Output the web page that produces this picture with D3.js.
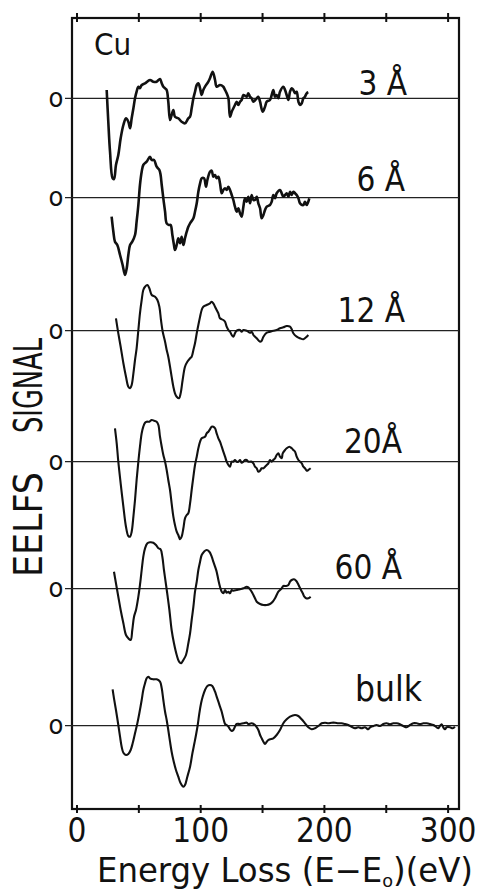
<!DOCTYPE html>
<html>
<head>
<meta charset="utf-8">
<script src="https://cdn.jsdelivr.net/npm/d3@7"></script>
<style>
  body { margin: 0; background: #fff; }
  svg { display: block; }
  text { font-family: "DejaVu Sans Condensed", "DejaVu Sans", sans-serif; font-weight: 300; fill: #111; }
</style>
</head>
<body>
<script>

// data: energy loss (eV) and EELFS signal (arb. units) for each film thickness

const energy3 = [24.4,25.7,27.1,29.2,30.3,31.9,33.8,35.7,37.9,40.0,41.9,43.3,44.6,46.0,47.3,48.6,50.0,51.3,52.7,55.4,59.4,62.1,64.8,67.5,68.9,70.2,71.6,72.9,74.2,75.6,76.9,78.3,79.6,82.3,85.0,87.7,90.4,91.8,93.1,94.5,95.8,97.2,98.5,99.9,101.2,102.5,103.9,106.6,107.9,110.1,112.0,113.3,116.0,118.7,120.1,121.4,122.8,124.1,125.5,126.8,128.1,129.5,130.8,132.2,133.5,134.9,137.6,138.9,140.3,141.6,143.0,145.7,147.0,148.4,150.5,152.4,153.8,156.4,157.8,159.1,160.5,161.8,163.2,164.5,167.2,168.6,169.9,171.3,172.6,174.0,175.3,176.7,178.0,179.4,180.7,182.1,183.4,184.7,186.1,187.4];
const signal3 = [8.3,-23.4,-53.4,-80.0,-80.7,-66.7,-56.7,-40.0,-26.7,-20.0,-23.4,-30.0,-20.0,-10.0,0,6.6,11.6,10.0,13.3,15.0,18.3,16.6,16.6,19.3,15.0,11.6,10.0,8.3,-3.4,-21.7,-16.7,-11.7,-18.4,-20.0,-23.4,-25.0,-20.0,-18.4,-10.0,0,6.6,13.3,15.0,10.0,3.3,8.3,11.6,16.6,20.0,26.6,18.3,11.6,13.3,11.6,8.3,5.0,0,-18.4,-13.4,-10.0,-6.7,-3.4,-6.7,-3.4,-1.7,3.3,1.6,5.0,1.6,0,-3.4,0,1.6,-3.4,-13.4,-8.4,-3.4,-1.7,3.3,8.3,1.6,3.3,0,6.6,11.6,8.3,3.3,-1.7,6.6,10.0,8.3,5.0,6.6,-3.4,-6.7,-5.0,0,1.6,5.0,6.0];

const energy6 = [28.4,29.8,31.1,33.0,35.2,37.3,39.2,40.6,41.9,43.3,45.1,47.3,48.6,50.0,51.3,52.7,54.0,56.7,59.4,60.8,62.7,64.8,67.0,68.0,68.9,70.2,71.6,72.9,74.8,76.1,77.5,78.8,79.6,81.0,82.3,83.7,85.0,86.4,87.7,89.1,90.4,91.8,94.5,95.8,97.2,98.5,99.9,101.2,103.1,104.7,105.8,107.9,109.3,110.6,112.0,113.3,114.7,116.0,117.4,118.7,120.1,121.4,122.8,124.1,125.5,126.8,128.1,129.5,130.8,132.2,133.5,134.9,136.2,137.6,138.9,140.3,141.6,143.0,144.3,145.7,147.0,148.4,149.7,151.1,152.4,153.8,156.4,157.8,159.1,160.5,161.8,164.5,165.9,167.2,168.6,169.9,171.3,172.6,174.0,175.3,176.7,178.0,179.4,180.7,183.4,184.7,186.1,188.2];
const signal6 = [-19.0,-34.0,-44.0,-47.3,-57.3,-67.3,-77.3,-70.6,-57.3,-47.3,-44.0,-37.3,-24.0,-7.3,12.7,26.0,32.7,36.0,41.0,37.7,37.7,31.0,27.7,22.7,12.7,-0.6,-14.0,-25.6,-27.3,-27.3,-37.3,-47.3,-52.3,-47.3,-40.6,-45.6,-39.0,-47.3,-40.6,-34.0,-29.0,-25.6,-20.6,-14.0,-5.6,6.0,14.4,19.4,19.4,11.0,17.7,26.0,27.0,21.0,22.7,19.4,21.0,14.4,4.4,7.7,9.4,7.7,11.0,7.7,2.7,-2.3,-9.0,-14.0,-10.6,-15.6,-19.0,-9.0,-0.6,-4.0,1.0,-5.6,2.7,-2.3,-2.3,1.0,-5.6,-10.6,-20.6,-17.3,-12.3,-9.0,-7.3,-4.0,2.7,-0.6,4.4,7.7,4.4,1.0,2.7,4.4,1.0,6.0,2.7,6.0,4.4,2.7,-0.6,-5.6,-7.3,-4.0,-7.3,-0.6];

const energy12 = [31.9,33.8,35.7,37.9,40.0,41.9,43.3,44.6,46.0,47.3,48.6,50.0,51.3,52.7,54.0,55.4,57.3,58.9,60.8,63.5,65.4,67.0,68.3,69.7,71.6,72.9,74.2,75.6,76.9,78.3,79.6,81.0,82.9,84.2,85.8,87.7,89.6,91.8,93.1,94.5,95.8,97.2,98.5,99.9,101.2,102.5,105.2,107.9,109.3,110.6,112.0,113.3,114.7,116.0,118.7,120.1,121.4,122.8,124.1,125.5,126.8,128.1,129.5,132.2,133.5,134.9,137.6,140.3,141.6,143.0,144.3,145.7,148.4,149.7,151.1,153.8,156.4,159.1,161.8,164.5,167.2,169.9,172.6,174.0,175.3,178.0,180.7,183.4,186.1,187.4];
const signal12 = [12.4,-2.6,-16.0,-32.6,-46.0,-56.0,-57.6,-54.3,-42.6,-29.3,-17.6,0.7,17.4,30.7,40.7,44.0,45.7,42.4,35.7,34.0,30.7,24.0,10.7,-1.0,-11.0,-19.3,-26.0,-36.0,-46.0,-56.0,-62.6,-66.0,-67.6,-62.6,-49.3,-36.0,-31.0,-27.6,-26.0,-19.3,-12.6,-2.6,5.7,14.0,20.7,24.0,25.7,27.4,29.0,27.4,24.0,20.7,17.4,12.4,10.7,9.0,4.0,0.7,-1.0,-4.3,-6.0,-2.6,0,0.7,-1.0,0.7,0,-2.0,-1.0,-4.3,-6.0,-7.6,-11.0,-10.0,-6.0,-2.0,-1.0,0,0.7,2.4,3.4,4.7,4.0,1.4,-2.6,-6.0,-7.6,-8.6,-6.0,-4.3];

const energy20 = [31.1,32.5,33.8,35.7,37.9,40.0,41.9,43.3,44.6,46.0,47.3,48.6,50.0,51.3,52.7,54.0,55.4,56.7,58.9,60.8,62.7,64.8,66.2,67.5,68.9,70.2,71.6,72.9,74.2,75.6,76.9,78.3,79.6,81.0,82.3,83.7,85.0,86.4,87.7,89.1,90.4,91.8,93.1,94.5,95.8,97.2,98.5,99.9,101.2,103.9,105.2,106.6,107.9,109.3,110.6,112.0,113.3,114.7,116.0,117.4,118.7,120.1,121.4,122.8,124.1,125.5,126.8,128.1,129.5,130.8,132.2,133.5,134.9,136.2,137.6,138.9,140.3,141.6,143.0,144.3,145.7,147.0,148.4,149.7,151.1,152.4,153.8,155.1,156.4,157.8,159.1,160.5,161.8,163.2,164.5,165.9,166.7,168.6,169.9,172.1,174.0,175.3,176.7,178.0,179.4,180.7,182.1,183.4,184.7,186.1,187.4,189.3];
const signal20 = [33.4,18.4,0,-21.6,-45.0,-65.0,-74.3,-75.0,-70.0,-55.0,-38.3,-18.3,0,15.0,28.4,35.0,39.0,40.0,40.0,41.7,41.0,40.0,36.7,25.0,15.0,6.7,0,-8.3,-18.3,-28.3,-41.6,-55.0,-63.3,-70.0,-73.3,-77.6,-75.0,-66.6,-56.6,-53.3,-51.6,-41.6,-28.3,-15.0,-3.3,5.0,13.4,20.0,23.4,25.0,28.4,30.0,32.4,35.0,35.0,33.4,28.4,23.4,20.0,15.0,10.0,5.0,0,-3.3,-5.0,0,0,1.7,0,0,1.7,-1.0,0,1.7,1.7,0,0,0,-1.6,-5.0,-6.6,-10.0,-9.0,-6.6,-6.6,-5.0,-3.3,-1.6,1.7,0,1.7,3.4,6.7,8.4,5.0,3.4,8.4,11.7,13.4,15.0,13.4,11.7,10.0,5.0,1.7,0,-1.6,-5.0,-6.6,-9.0,-8.3,-6.6];

const energy60 = [30.3,31.9,33.8,35.7,37.9,40.0,41.9,43.8,45.1,46.5,48.1,50.0,51.3,52.7,54.0,55.4,57.3,59.4,62.1,64.3,66.2,68.0,69.4,70.7,72.4,73.7,75.1,76.9,78.8,81.0,82.9,84.5,86.4,88.5,90.4,91.8,93.1,94.5,95.8,97.2,98.5,99.9,101.2,103.1,105.2,107.4,109.3,110.6,112.0,113.3,114.7,116.0,117.4,118.7,120.1,121.4,122.8,124.1,125.5,126.8,129.5,132.2,134.9,137.6,138.9,140.3,141.6,143.0,144.3,145.7,148.4,151.1,153.8,156.4,158.6,160.5,161.8,163.2,164.5,165.9,167.2,169.4,171.3,172.6,174.0,175.8,177.5,178.8,180.2,181.5,182.9,184.2,185.6,187.4,189.3];
const signal60 = [17.0,5.4,-8.0,-21.3,-34.6,-46.3,-49.6,-51.3,-41.3,-28.0,-21.3,-8.0,3.7,18.7,32.0,40.4,45.4,46.4,46.0,43.7,40.4,39.4,32.0,18.7,3.7,-8.0,-21.3,-41.3,-54.6,-66.3,-73.0,-74.6,-71.3,-66.3,-54.6,-44.6,-31.3,-18.0,-3.0,7.0,18.7,27.0,33.7,37.0,38.7,37.0,32.0,27.0,22.0,17.0,8.7,2.0,-3.0,-4.6,-1.3,-4.0,-3.0,-4.6,-1.3,-2.0,-1.3,-0.6,0.4,2.0,1.4,-0.6,-3.0,-6.3,-9.6,-13.0,-15.3,-16.3,-16.3,-15.3,-13.0,-9.6,-6.3,-3.0,-1.3,0.4,2.7,2.7,3.7,7.0,8.7,9.4,8.0,5.4,2.0,-1.3,-4.6,-8.0,-9.6,-9.6,-8.0];

const energyBulk = [29.2,30.3,31.9,33.8,35.2,36.5,37.9,40.0,41.9,43.8,45.4,47.3,49.2,50.8,52.7,54.0,55.4,56.7,58.1,59.4,62.1,64.8,67.5,68.9,70.2,71.6,72.9,74.2,75.6,76.9,78.3,80.4,82.3,84.2,86.4,87.7,89.6,91.8,93.7,95.3,96.6,98.0,99.3,100.7,102.0,103.9,105.8,107.9,109.8,112.0,113.3,114.7,116.0,117.4,118.7,120.1,121.4,122.8,124.1,125.5,126.8,128.1,129.5,132.2,134.9,137.6,138.9,141.6,144.3,145.7,147.0,148.4,149.7,151.1,152.4,153.8,155.1,156.4,159.1,161.8,164.5,167.2,169.9,172.6,176.6,179.3,182.0,184.7,187.4,190.1,192.8,195.5,198.2,200.9,203.6,206.3,209.0,211.6,214.3,217.0,219.7,222.4,225.1,227.8,230.5,233.2,235.9,237.3,240.0,242.6,245.3,248.0,250.7,253.4,256.1,258.8,261.5,264.2,266.9,269.6,272.3,275.0,277.7,280.4,283.1,285.8,288.5,291.2,292.5,293.8,295.2,296.5,297.9,299.2,301.9,304.1,305.9];
const signalBulk = [36.4,27.4,15.7,0.7,-11.0,-21.0,-27.0,-29.3,-28.3,-24.3,-17.6,-7.6,2.4,12.4,25.7,35.7,42.4,47.4,49.0,47.4,46.4,46.4,44.0,37.4,25.7,14.0,5.7,-4.3,-16.0,-26.0,-34.3,-44.3,-51.0,-57.6,-61.0,-59.3,-51.0,-41.0,-27.6,-17.6,-9.3,0.7,12.4,22.4,29.0,35.7,39.7,40.7,39.7,34.0,29.0,24.0,19.0,14.0,7.4,1.7,0.7,-1.0,-3.6,-5.3,-4.3,-1.0,1.7,1.7,2.4,3.0,1.7,2.4,0.7,-1.6,-4.3,-9.3,-12.6,-16.0,-18.3,-16.0,-14.3,-13.6,-12.6,-9.3,-4.3,2.4,6.4,9.0,10.7,9.7,6.4,2.4,-1.6,-3.6,-2.6,-0.3,2.4,3.0,2.4,3.0,3.0,2.4,2.4,1.7,0.7,-1.0,-2.6,-1.6,-2.6,-1.6,-3.6,-1.6,-0.3,0.7,-0.3,1.7,2.4,1.4,2.4,2.4,1.4,-0.3,-1.6,0.7,2.4,2.4,1.7,2.4,2.4,1.7,0.7,-1.6,-2.6,-0.3,1.4,-1.6,-3.6,-1.6,-1.6,-2.6,-1.0];

const thicknessLabels = ["3 Å", "6 Å", "12 Å", "20Å", "60 Å", "bulk"];
const xTicks = [0, 50, 100, 150, 200, 250, 300];
const xTickLabels = [0, 100, 200, 300];

// layout

const dms = {
    width: 480,
    height: 890,
    frame: { left: 72, right: 459, top: 18, bottom: 809 }
};

// zero line of each trace, position and size of its label
const zeroY = [98.3, 197.7, 330.7, 461.7, 588.7, 725.7];
const labelPos = [[407, 95], [405, 191], [405, 322], [402, 453], [402, 579], [422, 701]];
const labelSize = [33, 33, 33, 33, 33, 35];
const strokeW = [2.6, 2.6, 2.1, 2.1, 2.1, 2.1];

const series = [
    [energy3, signal3], [energy6, signal6], [energy12, signal12],
    [energy20, signal20], [energy60, signal60], [energyBulk, signalBulk]
].map(([e, s], i) => ({
    label: thicknessLabels[i],
    points: e.map((v, j) => ({ energy: v, signal: s[j] }))
}));

// canvas

const svg = d3.select("body")
    .append("svg")
        .attr("width", dms.width)
        .attr("height", dms.height);

// scales

const xScale = d3.scaleLinear()
    .domain([0, 300])
    .range([76.5, 447.6]);

// frame

svg.append("rect")
    .attr("x", dms.frame.left)
    .attr("y", dms.frame.top)
    .attr("width", dms.frame.right - dms.frame.left)
    .attr("height", dms.frame.bottom - dms.frame.top)
    .attr("fill", "none")
    .attr("stroke", "#111")
    .attr("stroke-width", 2.2);

// axes (ticks cross the frame line)

const topAxis = svg.append("g")
    .attr("transform", `translate(0, ${dms.frame.top + 4})`)
    .call(d3.axisTop(xScale).tickValues(xTicks).tickSize(9).tickFormat(""));

const bottomAxis = svg.append("g")
    .attr("transform", `translate(0, ${dms.frame.bottom - 4})`)
    .call(d3.axisBottom(xScale).tickValues(xTicks).tickSize(8)
        .tickFormat(d => xTickLabels.includes(d) ? d : ""));

[topAxis, bottomAxis].forEach(ax => {
    ax.select(".domain").remove();
    ax.selectAll(".tick line").attr("stroke", "#111").attr("stroke-width", 2);
});

bottomAxis.selectAll(".tick text")
    .attr("y", 37)
    .attr("dy", 0)
    .attr("fill", "#111")
    .attr("font-family", null)
    .attr("font-size", null)
    .style("font-size", "33px");

// axis titles

const xTitle = svg.append("text")
    .attr("x", 97)
    .attr("y", 882)
    .style("font-size", "33px")
    .attr("textLength", 376)
    .attr("lengthAdjust", "spacingAndGlyphs");
xTitle.append("tspan").text("Energy Loss  (E\u2212E");
xTitle.append("tspan").attr("dy", 5).style("font-size", "18px").text("o");
xTitle.append("tspan").attr("dy", -5).text(")(eV)");

[["SIGNAL", 385.5, 95], ["EELFS", 524.5, 105]].forEach(([word, cy, len]) => {
    svg.append("text")
        .attr("transform", `translate(42, ${cy}) rotate(-90)`)
        .attr("text-anchor", "middle")
        .attr("textLength", len)
        .attr("lengthAdjust", "spacingAndGlyphs")
        .style("font-size", "39px")
        .text(word);
});

svg.append("text")
    .attr("x", 94)
    .attr("y", 55)
    .style("font-size", "31px")
    .text("Cu");

// traces

const panels = svg.selectAll(".panel")
    .data(series)
    .enter()
    .append("g")
        .attr("class", "panel");

panels.each(function (d, i) {
    const g = d3.select(this);
    const yScale = d3.scaleLinear()
        .domain([-100, 100])
        .range([zeroY[i] + 100, zeroY[i] - 100]);

    g.append("line")
        .attr("x1", 65)
        .attr("x2", dms.frame.right)
        .attr("y1", yScale(0))
        .attr("y2", yScale(0))
        .attr("stroke", "#222")
        .attr("stroke-width", 1.2);

    g.append("text")
        .attr("x", 56)
        .attr("y", yScale(0) - 1)
        .attr("text-anchor", "middle")
        .attr("dominant-baseline", "central")
        .style("font-size", "27px")
        .text("o");

    const line = d3.line()
        .x(p => xScale(p.energy))
        .y(p => yScale(p.signal))
        .curve(d3.curveCatmullRom.alpha(0.5));

    g.append("path")
        .datum(d.points)
        .attr("d", line)
        .attr("fill", "none")
        .attr("stroke", "#111")
        .attr("stroke-width", strokeW[i])
        .attr("stroke-linejoin", "round");

    g.append("text")
        .attr("x", labelPos[i][0])
        .attr("y", labelPos[i][1])
        .attr("text-anchor", "end")
        .style("font-size", `${labelSize[i]}px`)
        .text(d.label);
});

</script>
</body>
</html>
